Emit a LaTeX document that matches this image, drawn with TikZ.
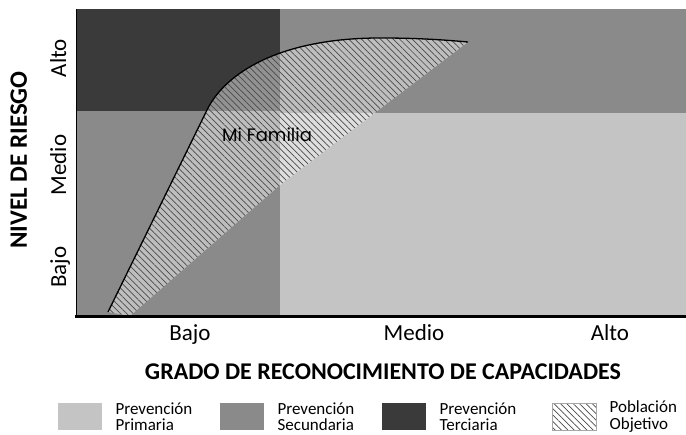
\documentclass[tikz,border=0pt]{standalone}
\usepackage{fontspec}
\setmainfont{Carlito}
\newfontfamily\familiafont{Poppins}
\usepackage{xcolor}
\definecolor{prev-primaria}{HTML}{C4C4C4}
\definecolor{prev-secundaria}{HTML}{8A8A8A}
\definecolor{prev-terciaria}{HTML}{3A3A3A}
\definecolor{trama-line}{HTML}{4A4A4A}
\usepackage{tikz}
\usetikzlibrary{patterns.meta,positioning}

\tikzset{
    trama/.style={pattern={Lines[angle=-45,distance=4.5pt,line width=0.7pt]}, pattern color=trama-line,
                  preaction={fill=white, fill opacity=0.45}},
    eje label/.style={font=\fontsize{23}{23}\selectfont, inner sep=0pt, anchor=base},
    muestra/.style={minimum width=44pt, minimum height=27pt, inner sep=0pt, anchor=north west},
    ley text/.style={font=\fontsize{17}{16.5}\selectfont, align=left, inner sep=0pt, right=13pt of #1},
}

\begin{document}
\begin{tikzpicture}[x=1pt, y=-1pt]

    \useasboundingbox (0,0) rectangle (686,435);

    % Prevencion secundaria
    \fill[prev-secundaria] (76,9) rectangle (686,113);
    \fill[prev-secundaria] (76,9) rectangle (280,318);

    % Prevencion primaria
    \fill[prev-primaria] (280,113) rectangle (686,318);

    % Prevencion terciaria
    \fill[prev-terciaria] (76,9) rectangle (280,111);

    % Curva
    \coordinate (curva-inicio) at (108,312);
    \coordinate (curva-codo) at (207,110);
    \coordinate (curva-cima) at (380,38);
    \coordinate (curva-fin) at (468,42);
    \coordinate (borde-medio) at (280,185);
    \coordinate (borde-base) at (130,316);

    % Poblacion objetivo
    \path[trama] (curva-inicio) -- (curva-codo) .. controls (225,73) and (280,38) .. (curva-cima)
                                 .. controls (420,38) and (445,40) .. (curva-fin)
                                 -- (borde-medio) -- (borde-base) -- cycle;
    \draw[line width=1.3pt] (curva-inicio) -- (curva-codo) .. controls (225,73) and (280,38) .. (curva-cima)
                                 .. controls (420,38) and (445,40) .. (curva-fin);

    \node[font=\familiafont\fontsize{18}{18}\selectfont, inner sep=0pt] (familia) at (267,135) {Mi Familia};

    % Ejes
    \draw[line width=1pt] (76,9) -- (76,318);
    \draw[line width=3pt] (74.5,317) -- (686,317);

    % Nivel de riesgo
    \node[font=\bfseries\fontsize{25}{25}\selectfont, inner sep=0pt, anchor=base, rotate=90] (riesgo) at (27,160) {NIVEL DE RIESGO};
    \node[eje label, rotate=90] (riesgo-alto) at (66,58) {Alto};
    \node[eje label, rotate=90] (riesgo-medio) at (66,165) {Medio};
    \node[eje label, rotate=90] (riesgo-bajo) at (66,267) {Bajo};

    % Grado de reconocimiento
    \node[eje label] (grado-bajo) at (190,341) {Bajo};
    \node[eje label] (grado-medio) at (414,341) {Medio};
    \node[eje label] (grado-alto) at (610,341) {Alto};
    \node[font=\bfseries\fontsize{24}{24}\selectfont, inner sep=0pt, anchor=base] (grado) at (383,380) {GRADO DE RECONOCIMIENTO DE CAPACIDADES};

    % Leyenda
    \node[muestra, fill=prev-primaria] (muestra-primaria) at (58,403) {};
    \node[ley text=muestra-primaria] (texto-primaria) {Prevención\\Primaria};
    \node[muestra, fill=prev-secundaria] (muestra-secundaria) at (220,403) {};
    \node[ley text=muestra-secundaria] (texto-secundaria) {Prevención\\Secundaria};
    \node[muestra, fill=prev-terciaria] (muestra-terciaria) at (382,403) {};
    \node[ley text=muestra-terciaria] (texto-terciaria) {Prevención\\Terciaria};
    \node[muestra, trama, draw=black!35, line width=0.4pt] (muestra-objetivo) at (552,403) {};
    \node[ley text=muestra-objetivo] (texto-objetivo) {Población\\Objetivo};

\end{tikzpicture}
\end{document}
